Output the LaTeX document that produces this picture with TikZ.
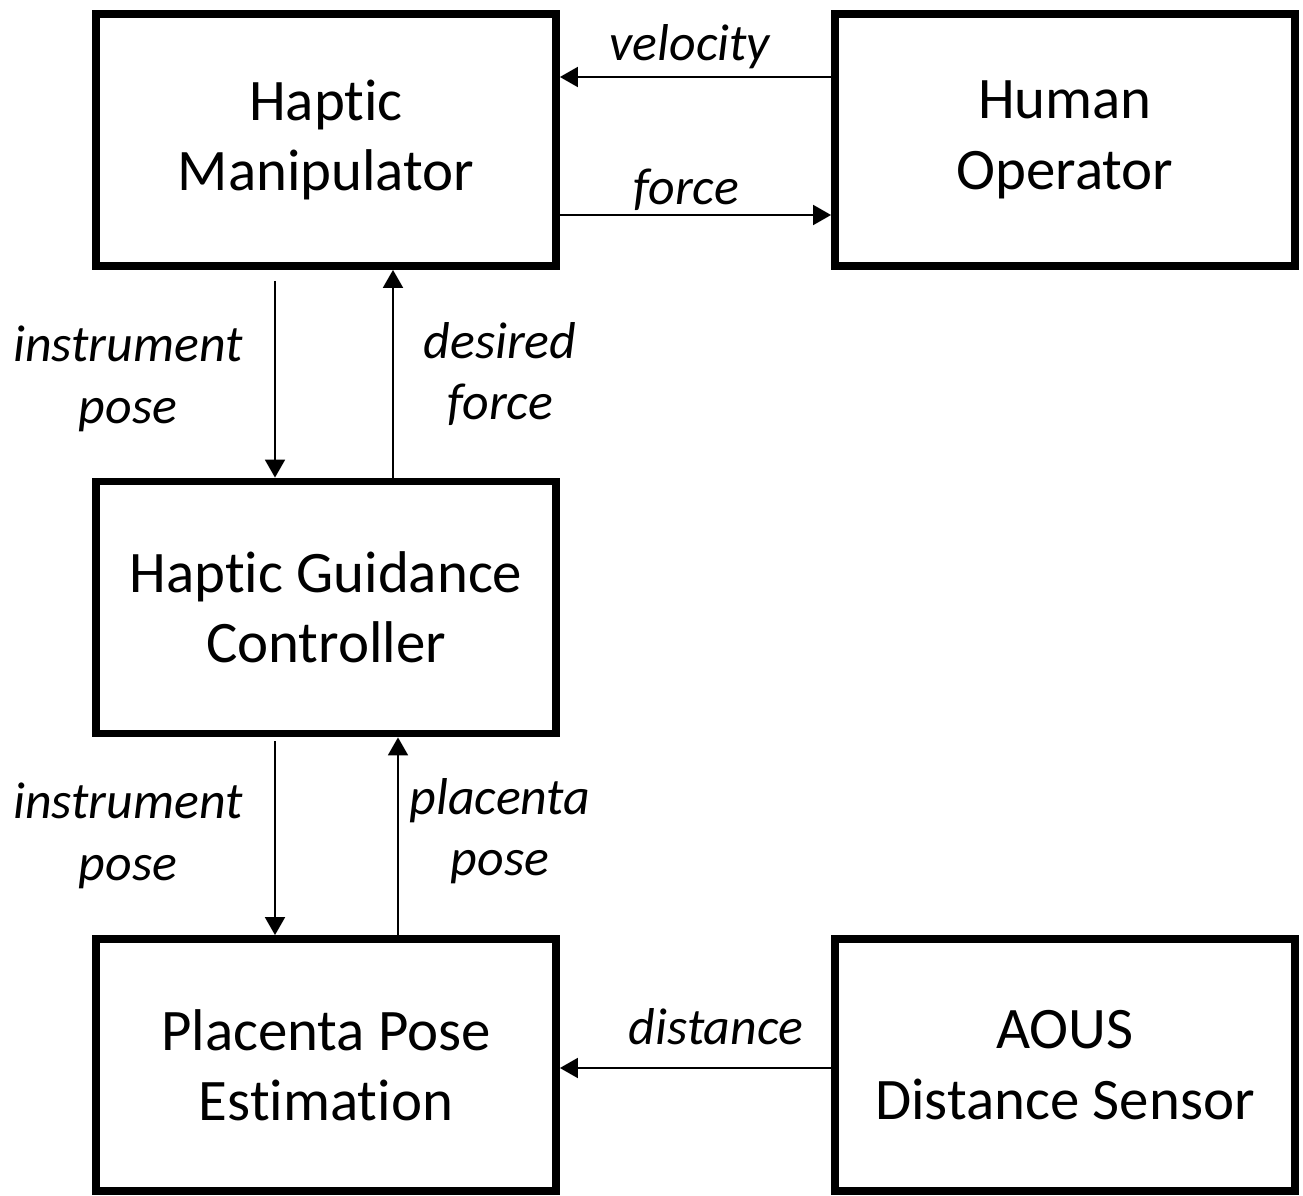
\documentclass[tikz,border=0pt]{standalone}
\usepackage{fontspec}
\setmainfont[Ligatures=NoCommon]{Carlito}
\usetikzlibrary{arrows.meta}
\begin{document}
\begin{tikzpicture}[x=0.02cm,y=-0.02cm,
  blk/.style={draw,line width=4.5pt,minimum width=9.2cm,minimum height=5.04cm,align=center,font=\fontsize{33.5}{40}\selectfont,inner sep=0pt},
  lbl/.style={align=center,font=\fontsize{29.5}{35}\selectfont\itshape,inner sep=0pt},
  arr/.style={line width=1.1pt,-{Triangle[length=0.36cm,width=0.4cm]}}]
\useasboundingbox (0,0) rectangle (1303,1196);
\node[blk] (HM) at (326,140) {Haptic\\Manipulator};
\node[blk] (HO) at (1065,140) {Human\\Operator};
\node[blk] (HGC) at (326,607.5) {Haptic Guidance\\Controller};
\node[blk] (PPE) at (326,1065) {Placenta Pose\\Estimation};
\node[blk] (AOUS) at (1065,1065) {AOUS\\Distance Sensor};
% horizontal
\draw[arr] (HO.west |- 0,77) -- (HM.east |- 0,77);
\draw[arr] (HM.east |- 0,215) -- (HO.west |- 0,215);
\draw[arr] (AOUS.west |- 0,1068) -- (PPE.east |- 0,1068);
% vertical
\coordinate (s1) at (275,281);
\draw[arr] (s1) -- (s1 |- HGC.north);
\draw[arr] (HGC.north -| 393,0) -- (HM.south -| 393,0);
\coordinate (s2) at (275,741);
\draw[arr] (s2) -- (s2 |- PPE.north);
\draw[arr] (PPE.north -| 398,0) -- (HGC.south -| 398,0);
% labels
\node[lbl] (lv) at (690,47) {velocity};
\node[lbl] (lf) at (686,190) {force};
\node[lbl] (lip1) at (128,379) {instrument\\pose};
\node[lbl] (ldf) at (500,374) {desired\\force};
\node[lbl] (lip2) at (128,836) {instrument\\pose};
\node[lbl] (lpp) at (500,831) {placenta\\pose};
\node[lbl] (ld) at (716,1027) {distance};
\end{tikzpicture}
\end{document}
